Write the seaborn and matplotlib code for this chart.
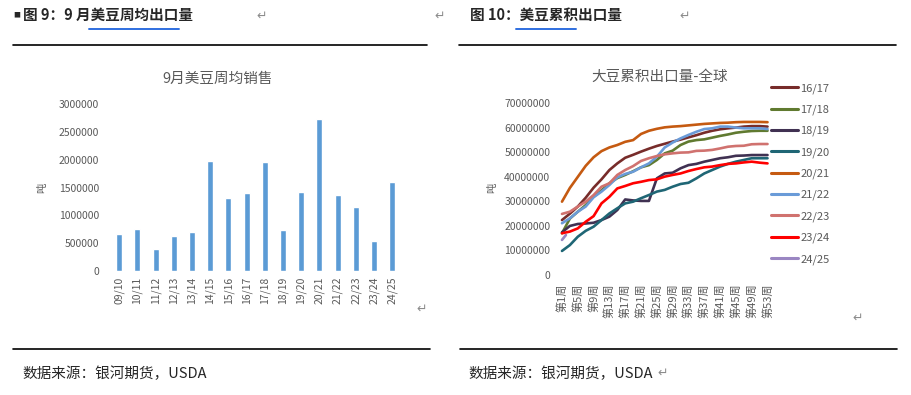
import pandas as pd
import matplotlib.pyplot as plt
import seaborn as sns
from matplotlib.lines import Line2D

# ------------------- Data -------------------
# left: average weekly soybean sales in September (tonnes)
seasons = ["09/10", "10/11", "11/12", "12/13", "13/14", "14/15", "15/16", "16/17",
           "17/18", "18/19", "19/20", "20/21", "21/22", "22/23", "23/24", "24/25"]
sept_sales = [660000, 750000, 396000, 630000, 697000, 1980000, 1308000, 1398000,
              1962000, 732000, 1416000, 2742000, 1362000, 1152000, 540000, 1602000]

# right: cumulative soybean exports, million tonnes, sampled every 2 weeks
weeks = list(range(1, 54, 2))
s1617 = [22.4, 25.0, 27.9, 31.5, 35.6, 39.0, 42.8, 45.5, 47.8, 49.0, 50.3, 51.5, 52.6, 53.5,
         54.4, 55.2, 56.1, 57.0, 58.0, 58.8, 59.4, 59.8, 60.1, 60.5, 60.7, 60.7, 60.5]
s1718 = [17.0, 23.0, 25.8, 28.5, 31.9, 34.5, 37.4, 39.5, 40.8, 42.3, 43.9, 44.8, 46.9, 49.6,
         50.7, 53.0, 54.4, 55.0, 55.3, 56.0, 56.7, 57.3, 58.0, 58.4, 58.7, 58.8, 58.8]
s1819 = [17.4, 20.0, 20.8, 21.0, 21.3, 22.4, 23.8, 26.5, 30.8, 30.4, 30.2, 30.2, 39.4, 41.4,
         41.7, 43.5, 44.8, 45.3, 46.2, 46.9, 47.6, 48.0, 48.6, 48.7, 48.9, 48.9, 48.9]
s1920 = [9.8, 12.2, 15.6, 18.0, 19.7, 22.4, 25.1, 27.2, 29.2, 29.9, 31.3, 32.6, 34.0, 34.7,
         36.0, 37.1, 37.6, 39.4, 41.4, 42.8, 44.2, 45.3, 46.2, 46.9, 47.6, 47.6, 47.6]
s2021 = [29.9, 35.5, 40.0, 44.5, 48.0, 50.5, 52.0, 53.0, 54.3, 55.0, 57.5, 58.8, 59.6, 60.2,
         60.5, 60.7, 61.0, 61.3, 61.6, 61.8, 62.0, 62.1, 62.3, 62.4, 62.4, 62.4, 62.3]
s2122 = [21.1, 23.1, 25.8, 27.9, 31.7, 34.0, 36.7, 39.8, 41.2, 42.1, 43.9, 45.5, 48.2, 52.0,
         54.0, 55.7, 57.1, 58.4, 59.5, 59.8, 60.5, 60.5, 60.1, 59.8, 59.8, 59.8, 59.5]
s2223 = [24.9, 25.8, 27.9, 29.9, 32.6, 36.0, 37.4, 40.8, 42.8, 44.4, 46.5, 47.6, 48.5, 49.2,
         49.6, 49.9, 50.0, 50.6, 50.7, 51.0, 51.6, 52.3, 52.6, 52.7, 53.3, 53.4, 53.4]
s2324 = [17.0, 17.7, 19.0, 21.7, 24.0, 29.2, 31.9, 35.3, 36.3, 37.4, 38.0, 38.7, 39.0, 40.1,
         40.8, 41.4, 42.4, 43.2, 43.9, 44.2, 44.8, 45.3, 45.5, 45.9, 46.2, 45.8, 45.5]
weeks_2425 = [1, 2]
s2425 = [14.3, 16.3]

series_names = ["16/17", "17/18", "18/19", "19/20", "20/21", "21/22", "22/23", "23/24", "24/25"]
series_colors = ["#772C2A", "#607A30", "#403152", "#1F6675", "#C55A11",
                 "#6A9BD8", "#D0726F", "#FF0000", "#9A86C2"]
week_ticks = list(range(1, 54, 4))
week_labels = [f"第{w}周" for w in week_ticks]

# ------------------- Build tables -------------------
df_bar = pd.DataFrame({"season": seasons, "sales": sept_sales})

rows = []
all_series = [s1617, s1718, s1819, s1920, s2021, s2122, s2223, s2324]
for name, vals in zip(series_names[:-1], all_series):
    for w, v in zip(weeks, vals):
        rows.append((name, w, v * 1e6))
for w, v in zip(weeks_2425, s2425):
    rows.append(("24/25", w, v * 1e6))
df_line = pd.DataFrame(rows, columns=["season", "week", "export"])

# ------------------- Figure -------------------
sns.set_style("white")
plt.rcParams['font.family'] = ['Noto Sans CJK SC', 'DejaVu Sans']
GRAY = "#595959"

W, H = 911, 395
fig = plt.figure(figsize=(W / 100, H / 100), dpi=100)


def fx(x):
    return x / W


def fy(y):
    return 1 - y / H


def hline(x0, x1, y, color="black", lw=1.2):
    fig.add_artist(Line2D([fx(x0), fx(x1)], [fy(y), fy(y)], color=color, lw=lw))


# headers
fig.text(fx(13), fy(15), "■", fontsize=5, va="center")
fig.text(fx(23), fy(15), "图 9：9 月美豆周均出口量", fontsize=10.5, fontweight="bold", va="center")
fig.text(fx(470), fy(15), "图 10：美豆累积出口量", fontsize=10.5, fontweight="bold", va="center")
hline(89, 179, 28.5, color="#2F6FE0", lw=1.4)
hline(516, 576, 28.5, color="#2F6FE0", lw=1.4)
for x, y in [(262, 16), (440, 16), (685, 16), (422, 309), (858, 318)]:
    fig.text(fx(x), fy(y), "↵", fontsize=9, color="#8C8C8C", ha="center", va="center",
             family="DejaVu Sans")
hline(13, 427, 45)
hline(459, 896, 45)
hline(13, 430, 349)
hline(460, 897, 349)

# captions
fig.text(fx(22), fy(374), "数据来源：银河期货，USDA", fontsize=10.5, va="center")
fig.text(fx(468), fy(374), "数据来源：银河期货，USDA", fontsize=10.5, va="center")
fig.text(fx(663), fy(373), "↵", fontsize=9, color="#8C8C8C", ha="center", va="center",
         family="DejaVu Sans")

# ------------------- Left: bar chart -------------------
ax1 = fig.add_axes([fx(110), fy(271), fx(401.4) - fx(110), fy(104.3) - fy(271)])
sns.barplot(data=df_bar, x="season", y="sales", color="#5B9BD5", width=0.33, ax=ax1,
            saturation=1)
ax1.set_xlim(-0.5, len(seasons) - 0.5)
ax1.set_ylim(0, 3000000)
ax1.set_yticks(range(0, 3000001, 500000))
ax1.set_yticklabels([str(v) for v in range(0, 3000001, 500000)])
ax1.set_xlabel("")
ax1.set_ylabel("")
ax1.tick_params(axis="y", length=0, pad=8, labelsize=7.5, labelcolor=GRAY)
ax1.tick_params(axis="x", length=0, pad=4, labelsize=7.5, labelcolor=GRAY, labelrotation=90)
sns.despine(ax=ax1, left=True, bottom=True)
fig.text(fx(218), fy(79), "9月美豆周均销售", fontsize=10.5, color=GRAY, ha="center", va="center")
fig.text(fx(42), fy(188), "吨", fontsize=7.5, color=GRAY, ha="center", va="center", rotation=90)

# ------------------- Right: line chart -------------------
ax2 = fig.add_axes([fx(560), fy(275), fx(769.5) - fx(560), fy(103.3) - fy(275)])
sns.lineplot(data=df_line, x="week", y="export", hue="season", hue_order=series_names,
             palette=dict(zip(series_names, series_colors)), estimator=None,
             linewidth=1.9, ax=ax2)
ax2.set_xlim(0.5, 53.5)
ax2.set_ylim(0, 70000000)
ax2.set_yticks(range(0, 70000001, 10000000))
ax2.set_yticklabels([str(v) for v in range(0, 70000001, 10000000)])
ax2.set_xticks(week_ticks)
ax2.set_xticklabels(week_labels)
ax2.set_xlabel("")
ax2.set_ylabel("")
ax2.tick_params(axis="y", length=0, pad=7, labelsize=7.5, labelcolor=GRAY)
ax2.tick_params(axis="x", length=0, pad=6, labelsize=8, labelcolor=GRAY, labelrotation=90)
sns.despine(ax=ax2, left=True, bottom=True)
sns.move_legend(ax2, loc="upper left", bbox_to_anchor=(fx(771), fy(83)),
                bbox_transform=fig.transFigure, frameon=False, title=None,
                fontsize=8, labelcolor=GRAY, handlelength=2.4, handletextpad=0.25,
                labelspacing=0.98, borderpad=0, borderaxespad=0)
for line in ax2.get_legend().get_lines():
    line.set_linewidth(2.2)
fig.text(fx(660), fy(77), "大豆累积出口量-全球", fontsize=10.5, color=GRAY, ha="center", va="center")
fig.text(fx(492), fy(188), "吨", fontsize=7.5, color=GRAY, ha="center", va="center", rotation=90)

plt.savefig("out.png", dpi=100)
